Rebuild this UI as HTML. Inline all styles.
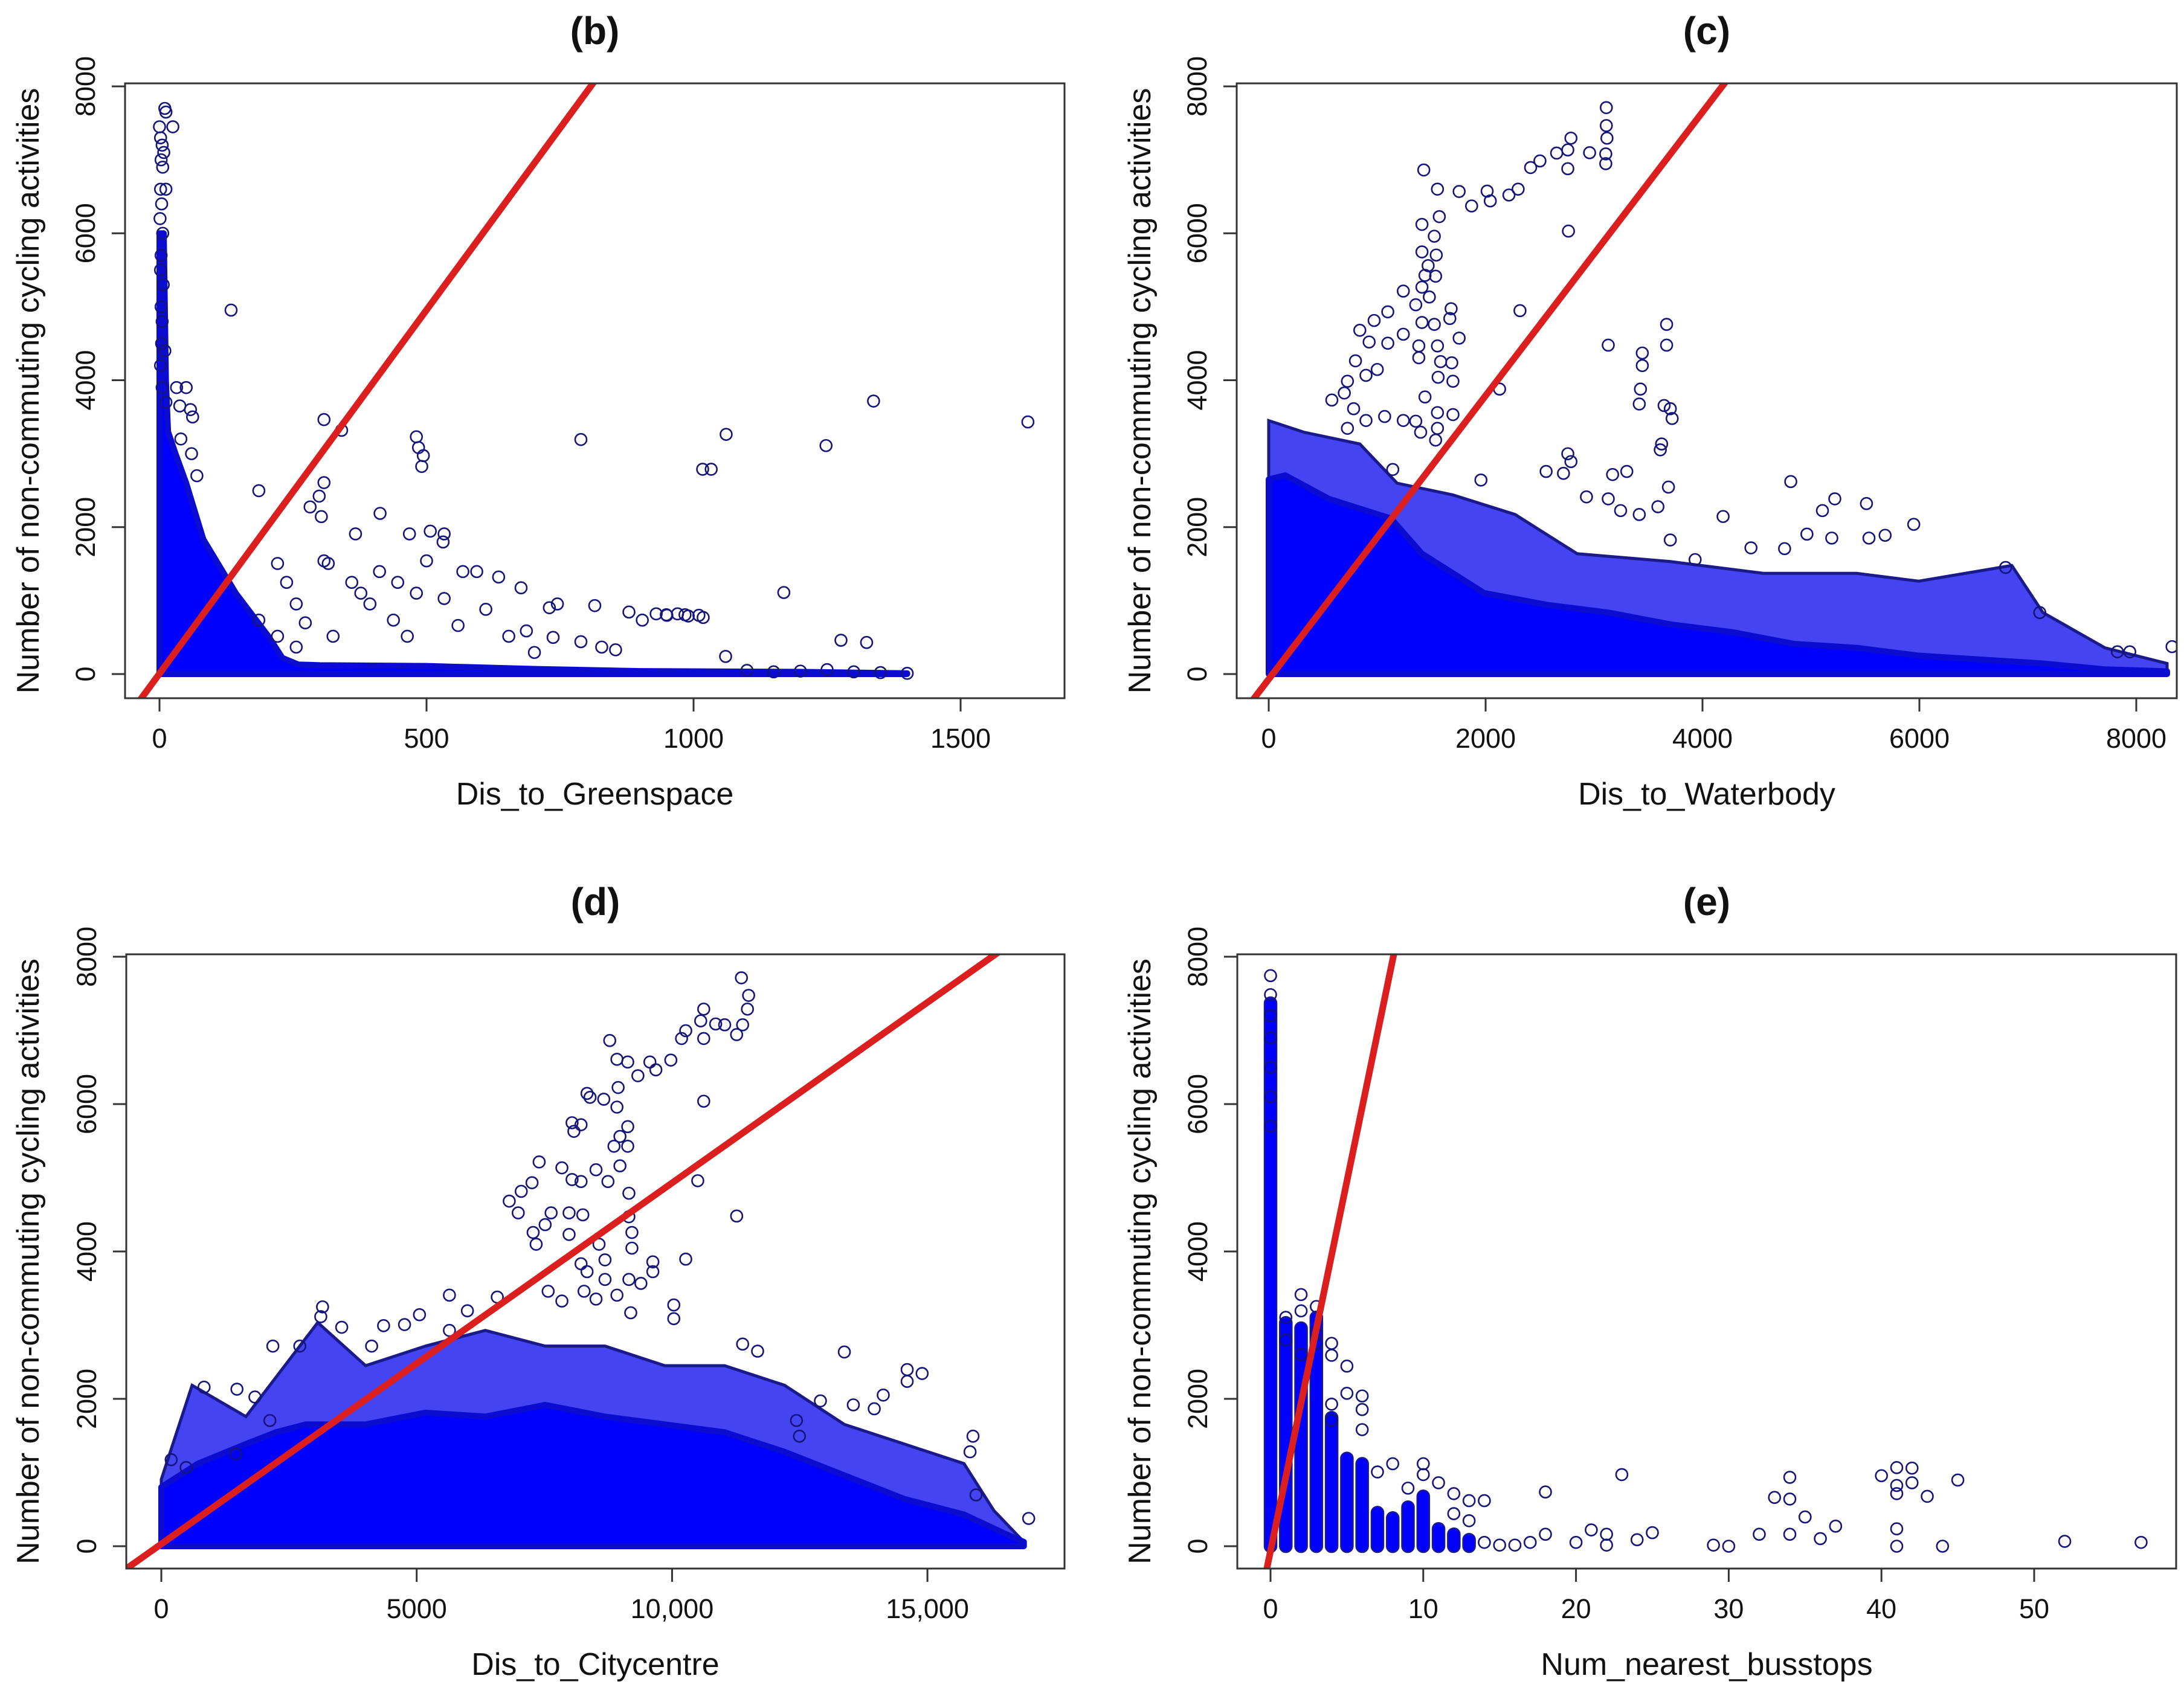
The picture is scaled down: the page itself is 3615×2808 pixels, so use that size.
<!DOCTYPE html>
<html><head><meta charset="utf-8">
<style>
html,body{margin:0;padding:0;background:#fff;width:3615px;height:2808px;overflow:hidden;}
svg{display:block;font-family:"Liberation Sans",sans-serif;}
</style></head>
<body>
<svg id="fig" xmlns="http://www.w3.org/2000/svg" width="3615" height="2808" viewBox="0 0 3615 2808">
<rect x="0" y="0" width="3615" height="2808" fill="#fff"/>
</svg>
<script>
// ---------- shared ticks ----------
const yTicks = [0, 2000, 4000, 6000, 8000];
const yTickLabels = ["0", "2000", "4000", "6000", "8000"];

// ---------- panel (b) ----------
const bXTicks = [0, 500, 1000, 1500];
const bXTickLabels = ["0", "500", "1000", "1500"];
const bCoef = [6, 9.9];
const bEnvX = [0, 0, 8, 12, 16, 30, 50, 82, 143, 204, 230, 260, 300, 500, 700, 900, 1200, 1400, 1400];
const bEnvY = [0, 6000, 6000, 4000, 3300, 3000, 2600, 1835, 1100, 514, 220, 130, 120, 110, 70, 40, 30, 10, 0];
const bPtX = [10,12,25,0,2,5,8,3,6,2,12,4,1,6,3,2,7,3,5,4,10,2,5,12,32,50,58,62,38,40,60,70,
134,308,341,481,485,494,491,789,413,367,468,507,533,531,186,308,299,282,303,308,316,500,568,594,635,677,730,745,815,879,904,949,984,1018,737,789,828,854,702,687,221,238,256,273,360,394,438,464,377,412,446,481,533,559,611,654,186,221,256,325,
1626,1337,1248,1061,1017,1033,1169,1276,1324,930,950,970,990,1010,1100,1200,1300,1350,1400,1250,1150,1060];
const bPtY = [7700,7650,7450,7450,7300,7200,7100,7000,6900,6600,6600,6400,6200,6000,5700,5500,5300,5000,4800,4500,4400,4200,3900,3700,3900,3900,3600,3500,3650,3200,3000,2700,
4954,3464,3318,3230,3083,2973,2826,3193,2187,1908,1908,1945,1908,1798,2496,2606,2422,2275,2143,1541,1505,1541,1395,1395,1321,1174,903,954,932,844,734,807,807,770,499,440,367,330,294,587,1505,1248,954,697,1248,954,734,514,1101,1395,1248,1101,1028,661,881,514,734,514,367,514,
3432,3716,3110,3263,2788,2788,1110,460,430,820,800,820,790,800,50,40,30,20,10,60,30,240];

// ---------- panel (c) ----------
const cXTicks = [0, 2000, 4000, 6000, 8000];
const cXTickLabels = ["0", "2000", "4000", "6000", "8000"];
const cCoef = [-70, 1.93];
const cEnvX = [0, 0, 153, 554, 1127, 1413, 1985, 2558, 3131, 3703, 4276, 4848, 5421, 5994, 6566, 7139, 7711, 8284, 8284];
const cEnvY = [0, 2650, 2705, 2385, 2118, 1638, 1104, 944, 837, 677, 570, 410, 357, 251, 197, 144, 64, 37, 0];
const cOutX = [0, 0, 325, 840, 1184, 1699, 2272, 2844, 3703, 4562, 5421, 5994, 6852, 7139, 7711, 8284, 8284];
const cOutY = [0, 3450, 3292, 3132, 2598, 2438, 2172, 1638, 1531, 1371, 1371, 1264, 1478, 837, 357, 144, 0];
const cPtX = [3113,3113,3119,3108,3108,2787,2758,2655,2959,2758,2501,2415,2300,2215,2043,2014,1871,1756,1556,1430,1573,1413,1527,2764,
1413,1545,1470,1441,1539,1413,1481,1356,1241,1682,1670,1756,1527,1413,2317,1098,972,840,926,1098,1241,1384,1556,1384,1585,1688,800,897,726,1001,1562,1699,1441,697,582,783,897,1069,1241,1356,1556,1699,1556,726,1401,1539,2129,
3669,3669,3131,3445,3445,3428,3417,3646,3703,3720,3623,3611,2758,2787,2558,2718,3171,3302,1957,1144,4814,3686,4190,5948,5220,5512,5106,4963,5192,5535,5684,6795,7110,7826,7940,8330,4757,4447,3589,3245,2930,3131,3417,3703,3932];
const cPtY = [7711,7466,7295,7081,6948,7295,7135,7092,7097,6879,6985,6895,6601,6521,6441,6574,6372,6569,6601,6862,6227,6121,5960,6030,
5747,5704,5560,5427,5416,5267,5133,5027,5213,4973,4840,4573,4760,4786,4947,4931,4813,4680,4520,4504,4626,4467,4467,4306,4253,4237,4264,4066,3986,4146,4040,3986,3772,3826,3730,3612,3452,3506,3452,3442,3559,3532,3345,3345,3292,3185,3879,
4760,4477,4477,4370,4199,3879,3676,3655,3612,3479,3132,3052,2999,2892,2758,2732,2716,2758,2641,2785,2620,2545,2145,2038,2385,2321,2225,1905,1851,1851,1889,1451,837,303,303,373,1707,1718,2278,2225,2412,2385,2172,1825,1558];

// ---------- panel (d) ----------
const dXTicks = [0, 5000, 10000, 15000];
const dXTickLabels = ["0", "5000", "10,000", "15,000"];
const dCoef = [30, 0.49];
const dEnvX = [0, 0, 720, 1657, 2243, 2829, 4000, 5172, 6344, 7515, 8687, 9858, 11030, 12202, 13373, 14545, 15716, 16537, 16888, 16888];
const dEnvY = [0, 802, 1121, 1387, 1546, 1653, 1653, 1812, 1759, 1918, 1759, 1653, 1546, 1281, 962, 642, 430, 164, 58, 0];
const dOutX = [0, 0, 603, 1657, 3063, 4000, 5172, 6344, 7515, 8687, 9858, 11030, 12202, 13373, 14545, 15716, 16302, 16888, 16888];
const dOutY = [0, 908, 2184, 1759, 3035, 2450, 2716, 2929, 2716, 2716, 2450, 2450, 2184, 1653, 1387, 1121, 483, 58, 0];
const dPtX = [11358,11499,11476,11382,11264,10620,10561,10854,11030,10268,10186,10620,10620,9976,9683,9331,9566,8780,8921,9132,8944,8921,8335,8394,8663,8042,8218,8078,9132,8980,8863,9132,8980,7398,7843,8511,8042,8218,8745,7258,7047,6812,6988,7632,7984,8253,7515,7280,7984,7339,9155,9155,9214,10503,11265,10268,8570,9214,9624,8687,8218,8335,8687,9155,9390,9624,7574,7843,8277,8511,8921,5641,6578,5993,3157,3122,10034,10034,9191,4352,3532,5055,4762,5641,13373,11382,11675,14603,14896,14603,12905,14135,13959,13549,12436,12494,15892,15834,15951,16982,193,486,2184,2712,1481,837,4118,2126,1833,1458];
const dPtY = [7714,7475,7289,7076,6943,7289,7129,7087,7076,6996,6890,6890,6039,6597,6465,6385,6571,6863,6608,6571,6225,5959,6145,6092,6066,5747,5720,5630,5694,5561,5428,5428,5162,5215,5135,5109,4976,4949,4949,4933,4816,4683,4524,4524,4524,4497,4364,4258,4231,4098,4790,4471,4258,4960,4481,3896,4098,4045,3859,3886,3833,3726,3620,3620,3567,3726,3460,3327,3460,3354,3407,3407,3381,3195,3248,3115,3274,3088,3168,2993,2971,3142,3008,2929,2636,2743,2647,2397,2344,2237,1972,2051,1865,1918,1706,1493,1493,1281,696,377,1174,1068,2716,2716,2131,2158,2716,1706,2025,1254];

// ---------- panel (e) ----------
const eXTicks = [0, 10, 20, 30, 40, 50];
const eXTickLabels = ["0", "10", "20", "30", "40", "50"];
const eCoef = [-62, 1003];
const eColX = [0, 1, 2, 3, 4, 5, 6, 7, 8, 9, 10, 11, 12, 13];
const eColTop = [7370, 3032, 2959, 3106, 1744, 1192, 1119, 456, 383, 530, 677, 236, 162, 88];
const ePtX = [0,0,0,0,0,0,0,2,2,1,3,4,4,5,5,6,6,6,4,4,7,8,9,10,10,11,12,13,14,13,12,18,18,23,21,22,22,24,25,20,16,15,17,14,29,30,32,33,34,34,34,35,36,37,40,41,41,41,41,41,42,42,43,44,45,52,57,3,2,1,3];
const ePtY = [7743,7485,7200,6900,6500,6100,5700,3415,3194,3106,3253,2753,2591,2444,2075,2039,1855,1582,1928,1708,1008,1119,788,1119,972,861,714,618,618,346,442,736,162,972,221,162,15,88,184,52,15,15,52,52,15,0,162,662,935,640,162,397,103,272,957,1067,824,714,236,0,1060,861,677,0,898,66,52,2900,2600,2800,2750];

// ---------- layout (not data) ----------
const NS = "http://www.w3.org/2000/svg";
const svg = document.getElementById("fig");
const panels = [
  {id:"b", title:"(b)", xlab:"Dis_to_Greenspace", box:[207,138,1762,1156], x0:264, ppu:0.884, y0:1116, y8:143,
   xt:bXTicks, xtl:bXTickLabels, coef:bCoef, envX:bEnvX, envY:bEnvY, px:bPtX, py:bPtY, ylabX:46},
  {id:"c", title:"(c)", xlab:"Dis_to_Waterbody", box:[2047,138,3603,1156], x0:2100, ppu:0.1795, y0:1116, y8:143,
   xt:cXTicks, xtl:cXTickLabels, coef:cCoef, envX:cEnvX, envY:cEnvY, outX:cOutX, outY:cOutY, px:cPtX, py:cPtY, ylabX:1886},
  {id:"d", title:"(d)", xlab:"Dis_to_Citycentre", box:[209,1580,1762,2597], x0:267, ppu:0.08454, y0:2560, y8:1584,
   xt:dXTicks, xtl:dXTickLabels, coef:dCoef, envX:dEnvX, envY:dEnvY, outX:dOutX, outY:dOutY, px:dPtX, py:dPtY, ylabX:46},
  {id:"e", title:"(e)", xlab:"Num_nearest_busstops", box:[2048,1580,3602,2597], x0:2103, ppu:25.28, y0:2560, y8:1584,
   xt:eXTicks, xtl:eXTickLabels, coef:eCoef, colX:eColX, colTop:eColTop, px:ePtX, py:ePtY, ylabX:1886}
];

function mk(tag, attrs, parent){
  const el = document.createElementNS(NS, tag);
  for (const k in attrs) el.setAttribute(k, attrs[k]);
  (parent||svg).appendChild(el);
  return el;
}

panels.forEach(function(p){
  const sx = v => p.x0 + v*p.ppu;
  const sy = v => p.y0 - v*(p.y0 - p.y8)/8000;
  const [L,T,R,B] = p.box;
  const g = mk("g", {});
  
  
  const cid = "clip-" + p.id;
  const cp = mk("clipPath", {id: cid}, g);
  mk("rect", {x:L, y:T, width:R-L, height:B-T}, cp);
  const plot = mk("g", {"clip-path":"url(#"+cid+")"}, g);

  if (p.outX){
    const pts = p.outX.map((v,i)=> sx(v)+","+sy(p.outY[i])).join(" ");
    const poly = mk("polygon", {points:pts, fill:"#1010f0", "fill-opacity":"0.78", stroke:"#1a1a8a", "stroke-width":"5"}, plot);
    
    
  }
  if (p.envX){
    const pts = p.envX.map((v,i)=> sx(v)+","+sy(p.envY[i])).join(" ");
    const poly = mk("polygon", {points:pts, fill:"#0000ff", stroke:"#0c0cd0", "stroke-width":"10", "stroke-linejoin":"round"}, plot);
    
    
  }
  if (p.colX){
    p.colX.forEach(function(v,i){
      const r = mk("rect", {x:sx(v)-10, y:sy(p.colTop[i])-10, width:20, height:sy(0)-sy(p.colTop[i])+20, rx:10, fill:"#0000ff", stroke:"#1a1a8a", "stroke-width":"2.5"}, plot);
      
      
    });
  }
  p.px.forEach(function(v,i){
    const c = mk("circle", {cx:sx(v), cy:sy(p.py[i]), r:9.5, fill:"none", stroke:"#14147a", "stroke-width":"2.6"}, plot);
    
    
  });
  // regression line spanning the whole box
  const xa = (L - 50 - p.x0)/p.ppu, xb = (R + 50 - p.x0)/p.ppu;
  const ln = mk("line", {x1:sx(xa), y1:sy(p.coef[0]+p.coef[1]*xa), x2:sx(xb), y2:sy(p.coef[0]+p.coef[1]*xb), stroke:"#db1f1f", "stroke-width":"11"}, plot);
  
  

  const bx = mk("rect", {x:L, y:T, width:R-L, height:B-T, fill:"none", stroke:"#333", "stroke-width":"3"}, g);
  
  

  yTicks.forEach(function(v,i){
    const t = mk("line", {x1:L-22, y1:sy(v), x2:L, y2:sy(v), stroke:"#333", "stroke-width":"3"}, g);
    
    
    const tx = mk("text", {x:0, y:0, "font-size":"45", "text-anchor":"middle", fill:"#111",
      transform:"translate("+(L-50)+","+sy(v)+") rotate(-90)"}, g);
    tx.textContent = yTickLabels[i];
    
    
  });
  p.xt.forEach(function(v,i){
    const t = mk("line", {x1:sx(v), y1:B, x2:sx(v), y2:B+22, stroke:"#333", "stroke-width":"3"}, g);
    
    
    const tx = mk("text", {x:sx(v), y:B+82, "font-size":"45", "text-anchor":"middle", fill:"#111"}, g);
    tx.textContent = p.xtl[i];
    
    
  });
  const cx = (L+R)/2;
  const ti = mk("text", {x:cx, y:T-65, "font-size":"64", "font-weight":"bold", "text-anchor":"middle", fill:"#111"}, g);
  ti.textContent = p.title;
  
  
  const xl = mk("text", {x:cx, y:B+176, "font-size":"52", "text-anchor":"middle", fill:"#111"}, g);
  xl.textContent = p.xlab;
  
  
  const yl = mk("text", {x:0, y:0, "font-size":"52", "text-anchor":"middle", fill:"#111",
    transform:"translate("+(p.ylabX+18)+","+((T+B)/2)+") rotate(-90)"}, g);
  yl.textContent = "Number of non-commuting cycling activities";
  
  
});
</script>
</body></html>
